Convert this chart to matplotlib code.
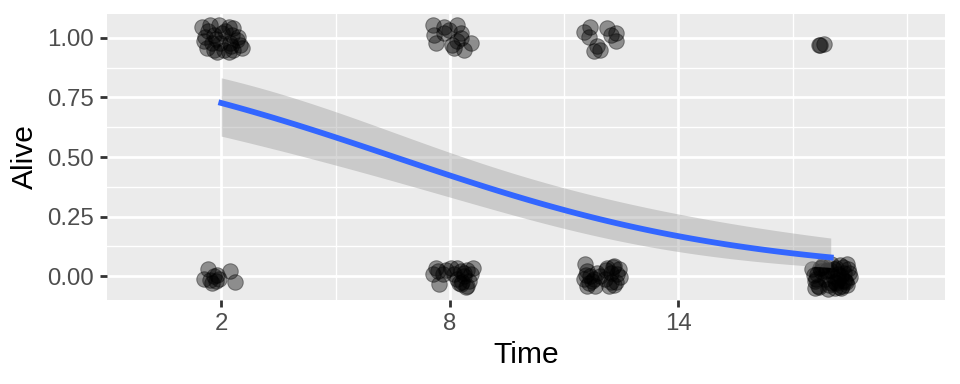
import numpy as np
import matplotlib
matplotlib.use("Agg")
import matplotlib.pyplot as plt

plt.rcParams['font.family'] = ['Liberation Sans', 'DejaVu Sans']

# observation times and outcome per group (raw values used for the glm fit)
times = [2, 2, 8, 8, 12, 12, 18, 18]
alive = [1, 0, 1, 0, 1, 0, 1, 0]

# jitter offsets, one pair of lists per group
jit_dx = [
    [-0.51, -0.29, -0.07, 0.19, 0.32, -0.42, -0.20, 0.02, 0.28, 0.45, -0.46,
     -0.24, -0.03, 0.24, 0.50, -0.20, 0.06, 0.32, 0.54, 0.19, -0.11, -0.38,
     -0.35, 0.10, 0.40, -0.15, 0.25],
    [-0.45, -0.35, -0.30, -0.20, -0.15, -0.10, -0.25, -0.05, 0.24, 0.37],
    [-0.45, -0.15, 0.20, -0.41, -0.15, 0.29, -0.37, 0.20, 0.11, 0.37, 0.55, -0.01,
     0.30, 0.05],
    [-0.45, -0.37, -0.28, -0.19, -0.10, 0.03, 0.20, 0.29, 0.38, 0.46, 0.51,
     0.29, 0.55, 0.42, 0.20, 0.60, 0.33, 0.11, 0.45, 0.25, 0.36, -0.30],
    [-0.49, -0.31, -0.35, 0.13, 0.35, 0.22, 0.35, -0.13, -0.05, -0.22],
    [-0.44, -0.40, -0.49, -0.27, -0.40, -0.18, -0.05, 0.13, 0.22, 0.30, 0.43,
     0.48, 0.22, 0.35, 0.08, -0.13, -0.31, 0.17, -0.35, 0.40, 0.28, -0.22,
     0.32, -0.42, 0.10],
    [-0.31, -0.18, -0.29],
    [-0.48, -0.40, -0.35, -0.30, -0.22, -0.15, -0.10, -0.05, 0.00, 0.05, 0.10,
     0.15, 0.20, 0.25, 0.30, 0.35, 0.40, 0.45, 0.50, -0.42, -0.25, 0.02, 0.18, 0.38,
     -0.45, -0.33, -0.20, -0.08, 0.08, 0.22, 0.33, 0.47, -0.38, -0.12, 0.12, 0.28, 0.42,
     -0.28, 0.15, 0.36, -0.02, 0.26, 0.44],
]
jit_dy = [
    [0.047, 0.054, 0.054, 0.047, 0.040, 0.005, 0.012, 0.020, 0.012, 0.005, -0.015,
     -0.022, -0.022, -0.022, -0.029, -0.050, -0.050, -0.050, -0.043, -0.060, -0.058, -0.043,
     0.030, 0.030, -0.010, -0.005, -0.035],
    [-0.010, 0.030, -0.015, 0.000, -0.020, 0.005, -0.030, -0.010, 0.020, -0.025],
    [0.054, 0.047, 0.054, 0.012, 0.020, 0.020, -0.022, -0.015, -0.043, -0.050, -0.022, 0.033,
     0.000, -0.030],
    [0.008, 0.036, -0.033, 0.008, 0.025, 0.036, 0.036, 0.020, 0.000, 0.025, -0.020,
     -0.033, 0.010, -0.047, -0.010, 0.036, -0.025, 0.008, -0.040, -0.030, 0.015, 0.020],
    [0.026, 0.047, 0.005, 0.040, 0.020, 0.012, -0.015, -0.036, -0.050, -0.057],
    [0.050, 0.022, -0.013, -0.020, -0.040, -0.040, 0.001, 0.036, 0.015, 0.043, 0.029,
     -0.005, -0.026, -0.026, -0.013, 0.015, 0.001, -0.040, -0.030, 0.010, 0.040, -0.010,
     -0.035, 0.005, 0.025],
    [-0.029, -0.026, -0.028],
    [0.030, -0.020, 0.010, -0.045, 0.040, -0.010, 0.025, -0.035, 0.050, 0.000, -0.050,
     0.035, -0.015, 0.045, -0.040, 0.015, -0.025, 0.030, -0.005, -0.048, 0.020, -0.030, 0.010, -0.020,
     0.005, -0.040, 0.045, -0.055, 0.030, -0.045, 0.040, 0.015, -0.010, 0.020, -0.025, -0.050, 0.050,
     0.035, -0.030, -0.015, 0.025, 0.000, -0.035],
]

x_raw = np.concatenate([[t] * len(d) for t, d in zip(times, jit_dx)]).astype(float)
y_raw = np.concatenate([[a] * len(d) for a, d in zip(alive, jit_dx)]).astype(float)
x_jit = x_raw + np.concatenate(jit_dx)
y_jit = y_raw + np.concatenate(jit_dy)

# logistic regression (IRLS), like geom_smooth(method = "glm", family = binomial)
X = np.column_stack([np.ones_like(x_raw), x_raw])
beta = np.zeros(2)
for _ in range(50):
    eta = X @ beta
    mu = 1 / (1 + np.exp(-eta))
    w = mu * (1 - mu)
    z = eta + (y_raw - mu) / w
    XtW = X.T * w
    beta = np.linalg.solve(XtW @ X, XtW @ z)
cov = np.linalg.inv((X.T * w) @ X)

xs = np.linspace(x_raw.min(), x_raw.max(), 80)
Xs = np.column_stack([np.ones_like(xs), xs])
eta_s = Xs @ beta
se = np.sqrt(np.einsum('ij,jk,ik->i', Xs, cov, Xs))
inv = lambda e: 1 / (1 + np.exp(-e))
fit = inv(eta_s)
lo = inv(eta_s - 1.96 * se)
hi = inv(eta_s + 1.96 * se)

fig = plt.figure(figsize=(6.6667, 2.6667), dpi=144)
ax = fig.add_axes([107 / 960, 1 - 300 / 384, (945 - 107) / 960, (300 - 14) / 384])
ax.set_facecolor('#EBEBEB')
for s in ax.spines.values():
    s.set_visible(False)

ax.set_xlim(-1, 21)
ax.set_ylim(-0.1, 1.1)
ax.set_xticks([2, 8, 14])
ax.set_yticks([0, 0.25, 0.5, 0.75, 1.0])
ax.set_yticklabels(['0.00', '0.25', '0.50', '0.75', '1.00'])
ax.set_xticks([5, 11, 17, 20], minor=True)
ax.set_yticks([0.125, 0.375, 0.625, 0.875], minor=True)
ax.grid(which='major', color='white', linewidth=1.4)
ax.grid(which='minor', color='white', linewidth=0.7)
ax.set_axisbelow(True)
ax.tick_params(which='major', color='#333333', width=1.4, length=3.6,
               labelsize=12, labelcolor='#4D4D4D', pad=3)
ax.tick_params(which='minor', length=0)

ax.scatter(x_jit, y_jit, s=60, facecolor='black', edgecolor='black',
           linewidth=0.5, alpha=0.4, zorder=2)
ax.fill_between(xs, lo, hi, color='#999999', alpha=0.4, linewidth=0, zorder=3)
ax.plot(xs, fit, color='#3366FF', linewidth=2.9, zorder=4)

ax.set_xlabel('Time', fontsize=15, labelpad=3)
ax.set_ylabel('Alive', fontsize=15, labelpad=4)

fig.savefig('out.png', dpi=144)
